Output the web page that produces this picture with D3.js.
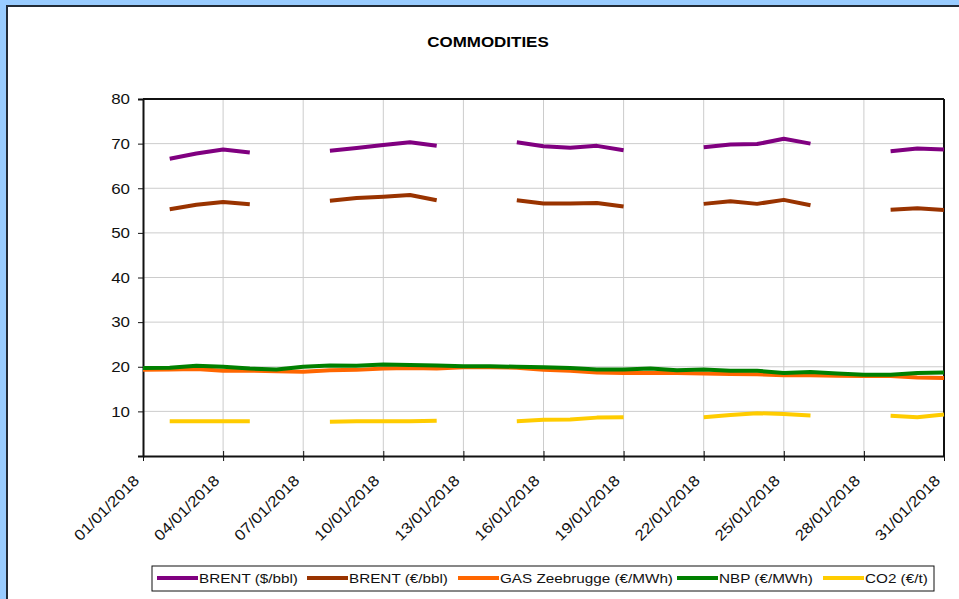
<!DOCTYPE html>
<html>
<head>
<meta charset="utf-8">
<script src="https://d3js.org/d3.v7.min.js"></script>
<style>
  body { margin: 0; background: #99ccff; }
  svg { display: block; }
  text { font-family: "Liberation Sans", Arial, sans-serif; }
</style>
</head>
<body>
<div id="chart"></div>
<script>
const width = 959;
const height = 599;

// trading days (weekends missing for Brent / CO2)
const tradingDays = [2, 3, 4, 5, 8, 9, 10, 11, 12, 15, 16, 17, 18, 19, 22, 23, 24, 25, 26, 29, 30, 31];
const allDays = d3.range(1, 32);

const brentUsd = [66.6, 67.8, 68.7, 68.0, 68.4, 69.0, 69.7, 70.3, 69.5, 70.3, 69.4, 69.1, 69.5, 68.5, 69.2, 69.8, 69.9, 71.1, 70.0, 68.3, 68.9, 68.7];
const brentEur = [55.3, 56.3, 56.9, 56.4, 57.2, 57.8, 58.1, 58.5, 57.3, 57.3, 56.6, 56.6, 56.7, 55.9, 56.5, 57.1, 56.5, 57.4, 56.2, 55.2, 55.5, 55.1];
const co2 = [7.8, 7.8, 7.8, 7.8, 7.7, 7.8, 7.8, 7.8, 7.9, 7.8, 8.1, 8.2, 8.6, 8.7, 8.7, 9.2, 9.6, 9.4, 9.1, 9.0, 8.7, 9.3];
const gasZee = [19.3, 19.4, 19.5, 19.1, 19.1, 19.0, 18.9, 19.2, 19.3, 19.6, 19.7, 19.6, 19.9, 19.9, 19.8, 19.3, 19.1, 18.7, 18.6, 18.6, 18.6, 18.5, 18.4, 18.3, 18.1, 18.1, 18.0, 17.9, 17.9, 17.6, 17.5];
const nbp = [19.7, 19.8, 20.2, 20.0, 19.6, 19.4, 20.0, 20.3, 20.2, 20.5, 20.4, 20.3, 20.1, 20.1, 20.0, 19.9, 19.7, 19.4, 19.4, 19.6, 19.2, 19.4, 19.1, 19.1, 18.6, 18.8, 18.5, 18.2, 18.2, 18.6, 18.7];

const tickDays = [1, 4, 7, 10, 13, 16, 19, 22, 25, 28, 31];
const yTicks = [10, 20, 30, 40, 50, 60, 70, 80];

const series = [
  { name: "BRENT ($/bbl)", color: "#800080", days: tradingDays, values: brentUsd },
  { name: "BRENT (€/bbl)", color: "#993300", days: tradingDays, values: brentEur },
  { name: "GAS Zeebrugge (€/MWh)", color: "#ff6600", days: allDays, values: gasZee },
  { name: "NBP (€/MWh)", color: "#008000", days: allDays, values: nbp },
  { name: "CO2 (€/t)", color: "#ffcc00", days: tradingDays, values: co2 }
];

const margin = { left: 143, right: 15, top: 99, bottom: 143 };
const stretch = 1.13; // text in the original looks horizontally widened

const svg = d3.select("#chart")
  .append("svg")
  .attr("width", width)
  .attr("height", height);

// outer frame
svg.append("rect")
  .attr("x", 7).attr("y", 6)
  .attr("width", width).attr("height", height)
  .attr("fill", "white")
  .attr("stroke", "#222b36")
  .attr("stroke-width", 2);

svg.append("text")
  .attr("x", 488).attr("y", 47)
  .attr("text-anchor", "middle")
  .attr("font-size", "15px")
  .attr("font-weight", "bold")
  .text("COMMODITIES");

const x = d3.scaleLinear()
  .domain([1, 31])
  .range([margin.left, width - margin.right]);

const y = d3.scaleLinear()
  .domain([0, 80])
  .range([height - margin.bottom, margin.top]);

// gridlines
svg.append("g")
  .selectAll("line")
  .data(tickDays.slice(1, -1))
  .enter().append("line")
  .attr("x1", d => x(d)).attr("x2", d => x(d))
  .attr("y1", y(0)).attr("y2", y(80))
  .attr("stroke", "#cccccc");

svg.append("g")
  .selectAll("line")
  .data(yTicks.slice(0, -1))
  .enter().append("line")
  .attr("x1", x(1)).attr("x2", x(31))
  .attr("y1", d => y(d)).attr("y2", d => y(d))
  .attr("stroke", "#cccccc");

// plot frame top / right
svg.append("line")
  .attr("x1", x(1)).attr("x2", x(31))
  .attr("y1", y(80)).attr("y2", y(80))
  .attr("stroke", "#111").attr("stroke-width", 2);
svg.append("line")
  .attr("x1", x(31)).attr("x2", x(31))
  .attr("y1", y(80)).attr("y2", y(0))
  .attr("stroke", "#111").attr("stroke-width", 2);

// axes
const yAxis = svg.append("g")
  .attr("transform", `translate(${x(1)},0)`)
  .call(d3.axisLeft(y).tickValues([0].concat(yTicks)).tickSize(5).tickFormat(d => d === 0 ? "" : d));
yAxis.attr("font-family", null);
yAxis.select(".domain").attr("stroke", "#111").attr("stroke-width", 2);
yAxis.selectAll(".tick line").attr("stroke", "#111");
yAxis.selectAll("text").attr("font-size", "15px").attr("fill", "#111").attr("x", -13);

const fmt = d => String(d).padStart(2, "0") + "/01/2018";
const xAxis = svg.append("g")
  .attr("transform", `translate(0,${y(0)})`)
  .call(d3.axisBottom(x).tickValues(tickDays).tickSize(5).tickSizeOuter(0).tickFormat(fmt));
xAxis.attr("font-family", null);
xAxis.select(".domain").attr("stroke", "#111").attr("stroke-width", 2);
xAxis.selectAll(".tick line").attr("stroke", "#111").attr("y1", -5);
xAxis.selectAll("text")
  .attr("font-size", "15px")
  .attr("fill", "#111")
  .attr("text-anchor", "end")
  .attr("dy", "0.35em")
  .attr("transform", "translate(-7,22) rotate(-45)")
  .attr("x", 0).attr("y", 0);

// series lines, broken on missing days
const line = d3.line()
  .defined(d => d.v != null)
  .x(d => x(d.day))
  .y(d => y(d.v));

series.forEach(s => {
  const pts = allDays.map(day => {
    const i = s.days.indexOf(day);
    return { day: day, v: i >= 0 ? s.values[i] : null };
  });
  svg.append("path")
    .datum(pts)
    .attr("fill", "none")
    .attr("stroke", s.color)
    .attr("stroke-width", 4)
    .attr("stroke-linejoin", "round")
    .attr("d", line);
});

// legend
const legend = svg.append("g");
legend.append("rect")
  .attr("x", 152).attr("y", 566)
  .attr("width", 782).attr("height", 25)
  .attr("fill", "white")
  .attr("stroke", "#111");

const legendX = [157, 307, 458, 677, 823];
series.forEach((s, i) => {
  const g = legend.append("g").attr("transform", `translate(${legendX[i]},578)`);
  g.append("line")
    .attr("x1", 0).attr("x2", 41)
    .attr("stroke", s.color).attr("stroke-width", 4);
  g.append("text")
    .attr("x", 42).attr("y", 5)
    .attr("font-size", "13.5px")
    .attr("fill", "#111")
    .text(s.name);
});

// widen every label a little, like the source rendering
svg.selectAll("text").each(function() {
  const w = this.getComputedTextLength();
  if (w > 0) d3.select(this).attr("textLength", w * stretch).attr("lengthAdjust", "spacingAndGlyphs");
});
</script>
</body>
</html>
